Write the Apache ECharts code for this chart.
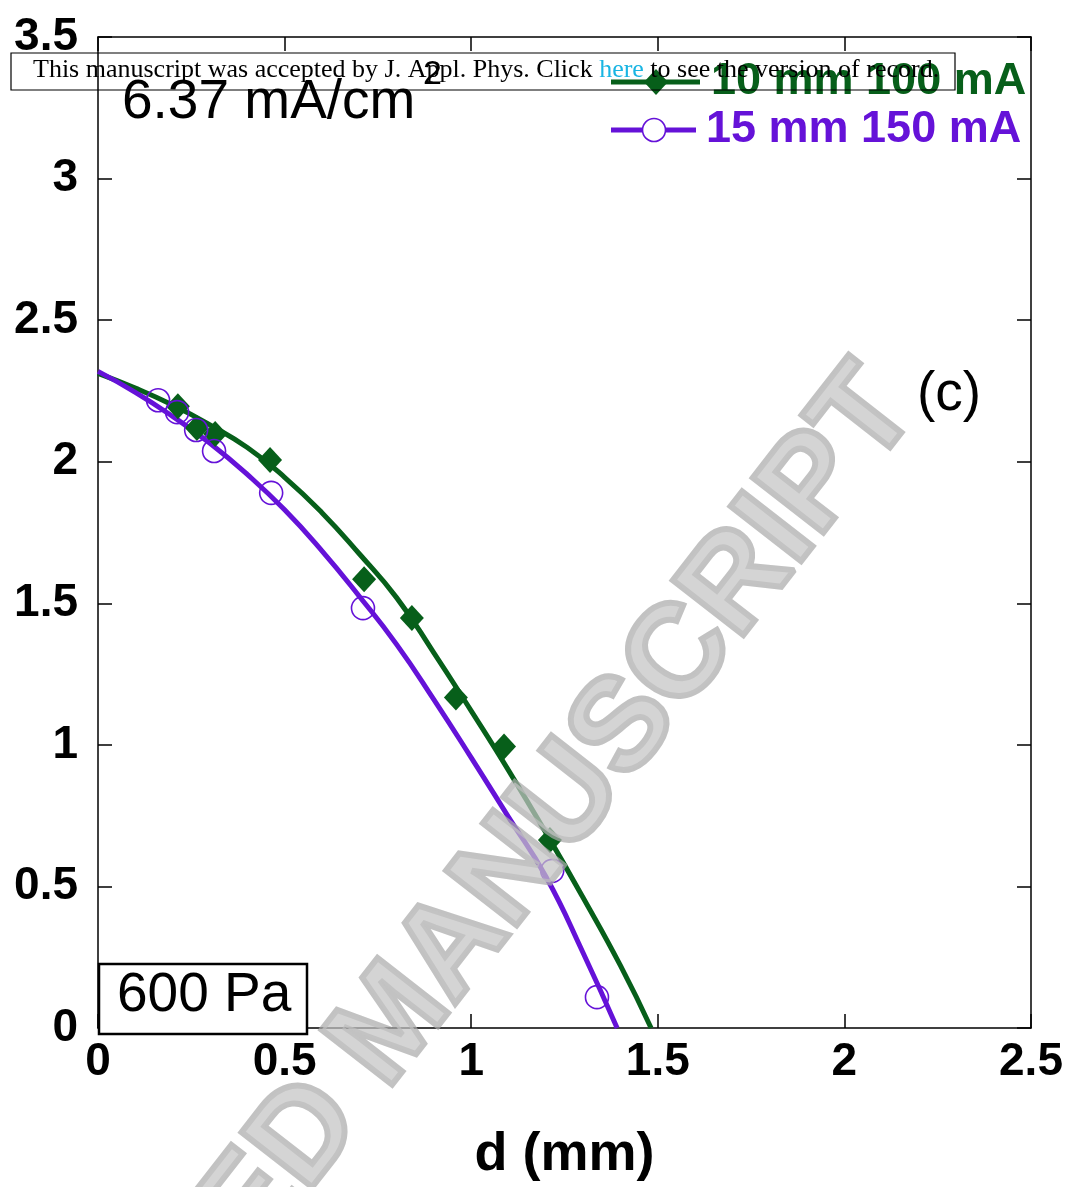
<!DOCTYPE html>
<html>
<head>
<meta charset="utf-8">
<script src="https://cdn.jsdelivr.net/npm/echarts@6/dist/echarts.min.js"></script>
<style>
html,body{margin:0;padding:0;background:#fff;overflow:hidden;}
#chart{width:1073px;height:1187px;}
</style>
</head>
<body>
<div id="chart"></div>
<script>
// ---- data ----
var xTicks = [0, 0.5, 1, 1.5, 2, 2.5];
var yTicks = [0, 0.5, 1, 1.5, 2, 2.5, 3, 3.5];
var seriesNames = ['10 mm 100 mA', '15 mm 150 mA'];

var green10Points = [
  [0.214, 2.196], [0.265, 2.119], [0.314, 2.098], [0.461, 2.006],
  [0.713, 1.585], [0.841, 1.448], [0.959, 1.167], [1.088, 0.994], [1.211, 0.664]
];
var purple15Points = [
  [0.161, 2.217], [0.212, 2.175], [0.263, 2.112], [0.311, 2.038],
  [0.464, 1.890], [0.710, 1.483], [1.217, 0.555], [1.337, 0.109]
];
var green10Curve = [
  [0, 2.312], [0.1, 2.26], [0.2, 2.20], [0.3, 2.13], [0.4, 2.05], [0.5, 1.945],
  [0.6, 1.82], [0.7, 1.675], [0.8, 1.52], [0.9, 1.325], [1.0, 1.12], [1.1, 0.91],
  [1.2, 0.69], [1.3, 0.46], [1.4, 0.22], [1.482, 0]
];
var purple15Curve = [
  [0, 2.319], [0.1, 2.245], [0.2, 2.16], [0.3, 2.065], [0.4, 1.955], [0.5, 1.83],
  [0.6, 1.685], [0.7, 1.525], [0.8, 1.355], [0.9, 1.16], [1.0, 0.955], [1.1, 0.745],
  [1.2, 0.535], [1.3, 0.265], [1.391, 0]
];

var GREEN = '#075f1a';
var PURPLE = '#6512d8';

var chart = echarts.init(document.getElementById('chart'));

var axisCommon = {
  axisLine: {show: true, onZero: false, lineStyle: {color: '#000', width: 1.5}},
  axisTick: {show: true, inside: true, length: 14, lineStyle: {color: '#000', width: 1.5}},
  splitLine: {show: false}
};

var option = {
  animation: false,
  backgroundColor: '#fff',
  grid: {left: 98, top: 37, width: 933, height: 996, containLabel: false},
  xAxis: [
    Object.assign({}, axisCommon, {
      type: 'value', min: 0, max: 2.5, interval: 0.5, position: 'bottom',
      name: 'd (mm)', nameLocation: 'middle', nameGap: 100,
      nameTextStyle: {fontFamily: 'Liberation Sans', fontWeight: 'bold', fontSize: 54, color: '#000'},
      axisLabel: {
        fontFamily: 'Liberation Sans', fontWeight: 'bold', fontSize: 46, color: '#000', margin: 11,
        formatter: function (v) { return xTicks.indexOf(v) >= 0 ? String(v) : ''; }
      }
    }),
    Object.assign({}, axisCommon, {
      type: 'value', min: 0, max: 2.5, interval: 0.5, position: 'top',
      axisLabel: {show: false}
    })
  ],
  yAxis: [
    Object.assign({}, axisCommon, {
      type: 'value', min: 0, max: 3.5, interval: 0.5, position: 'left',
      axisLabel: {
        fontFamily: 'Liberation Sans', fontWeight: 'bold', fontSize: 46, color: '#000', margin: 20,
        formatter: function (v) { return yTicks.indexOf(v) >= 0 ? String(v) : ''; }
      }
    }),
    Object.assign({}, axisCommon, {
      type: 'value', min: 0, max: 3.5, interval: 0.5, position: 'right',
      axisLabel: {show: false}
    })
  ],
  series: [
    {
      name: seriesNames[0] + ' fit', type: 'line', data: green10Curve, smooth: 0.5,
      showSymbol: false, lineStyle: {color: GREEN, width: 5}, z: 2
    },
    {
      name: seriesNames[1] + ' fit', type: 'line', data: purple15Curve, smooth: 0.5,
      showSymbol: false, lineStyle: {color: PURPLE, width: 5}, z: 3
    },
    {
      name: seriesNames[0], type: 'scatter', data: green10Points, symbol: 'diamond',
      symbolSize: [24, 26], itemStyle: {color: GREEN, opacity: 1}, z: 4
    },
    {
      name: seriesNames[1], type: 'scatter', data: purple15Points, symbol: 'circle',
      symbolSize: 23, itemStyle: {color: 'rgba(0,0,0,0)', borderColor: PURPLE, borderWidth: 1.6, opacity: 1}, z: 5
    }
  ],
  graphic: [
    // legend
    {type: 'line', shape: {x1: 611, y1: 82, x2: 700, y2: 82}, style: {stroke: GREEN, lineWidth: 5}, z: 10},
    {type: 'polygon', shape: {points: [[656, 69], [668, 82], [656, 95], [644, 82]]}, style: {fill: GREEN}, z: 10},
    {type: 'text', left: 711, top: 59, style: {text: seriesNames[0], font: 'bold 45px "Liberation Sans"', fill: GREEN}, z: 10},
    {type: 'line', shape: {x1: 611, y1: 130, x2: 696, y2: 130}, style: {stroke: PURPLE, lineWidth: 5}, z: 10},
    {type: 'circle', shape: {cx: 654, cy: 130, r: 11.5}, style: {fill: '#fff', stroke: PURPLE, lineWidth: 1.6}, z: 10},
    {type: 'text', left: 706, top: 107, style: {text: seriesNames[1], font: 'bold 45px "Liberation Sans"', fill: PURPLE}, z: 10},
    // annotations
    {type: 'text', left: 122, top: 75, style: {text: '6.37 mA/cm', font: '55px "Liberation Sans"', fill: '#000'}, z: 10},
    {type: 'text', left: 423, top: 58, style: {text: '2', font: '34px "Liberation Sans"', fill: '#000'}, z: 10},
    {type: 'text', left: 917, top: 367, style: {text: '(c)', font: '55px "Liberation Sans"', fill: '#000'}, z: 10},
    {type: 'rect', shape: {x: 99, y: 964, width: 208, height: 70}, style: {fill: '#fff', stroke: '#000', lineWidth: 2.5}, z: 10},
    {type: 'text', left: 117, top: 968, style: {text: '600 Pa', font: '55px "Liberation Sans"', fill: '#000'}, z: 11},
    // manuscript header box
    {type: 'rect', shape: {x: 11, y: 53, width: 944, height: 37}, style: {fill: 'rgba(0,0,0,0)', stroke: '#000', lineWidth: 1.2}, z: 20},
    {type: 'text', left: 33, top: 57, z: 21, style: {
      rich: {
        t: {font: '26px "Liberation Serif"', fill: '#000'},
        h: {font: '26px "Liberation Serif"', fill: '#19b5e3'}
      },
      text: '{t|This manuscript was accepted by J. Appl. Phys. Click }{h|here}{t| to see the version of record.}'
    }},
    // watermark
    {type: 'text', x: 394, y: 1024, rotation: 52 * Math.PI / 180, z: 15,
      style: {text: 'ACCEPTED MANUSCRIPT', font: 'bold 130px "Liberation Sans"', fill: 'rgba(195,195,195,0.72)',
        stroke: 'rgba(170,170,170,0.72)', lineWidth: 6, lineJoin: 'round', align: 'center', verticalAlign: 'middle'}}
  ]
};
chart.setOption(option);
</script>
</body>
</html>
